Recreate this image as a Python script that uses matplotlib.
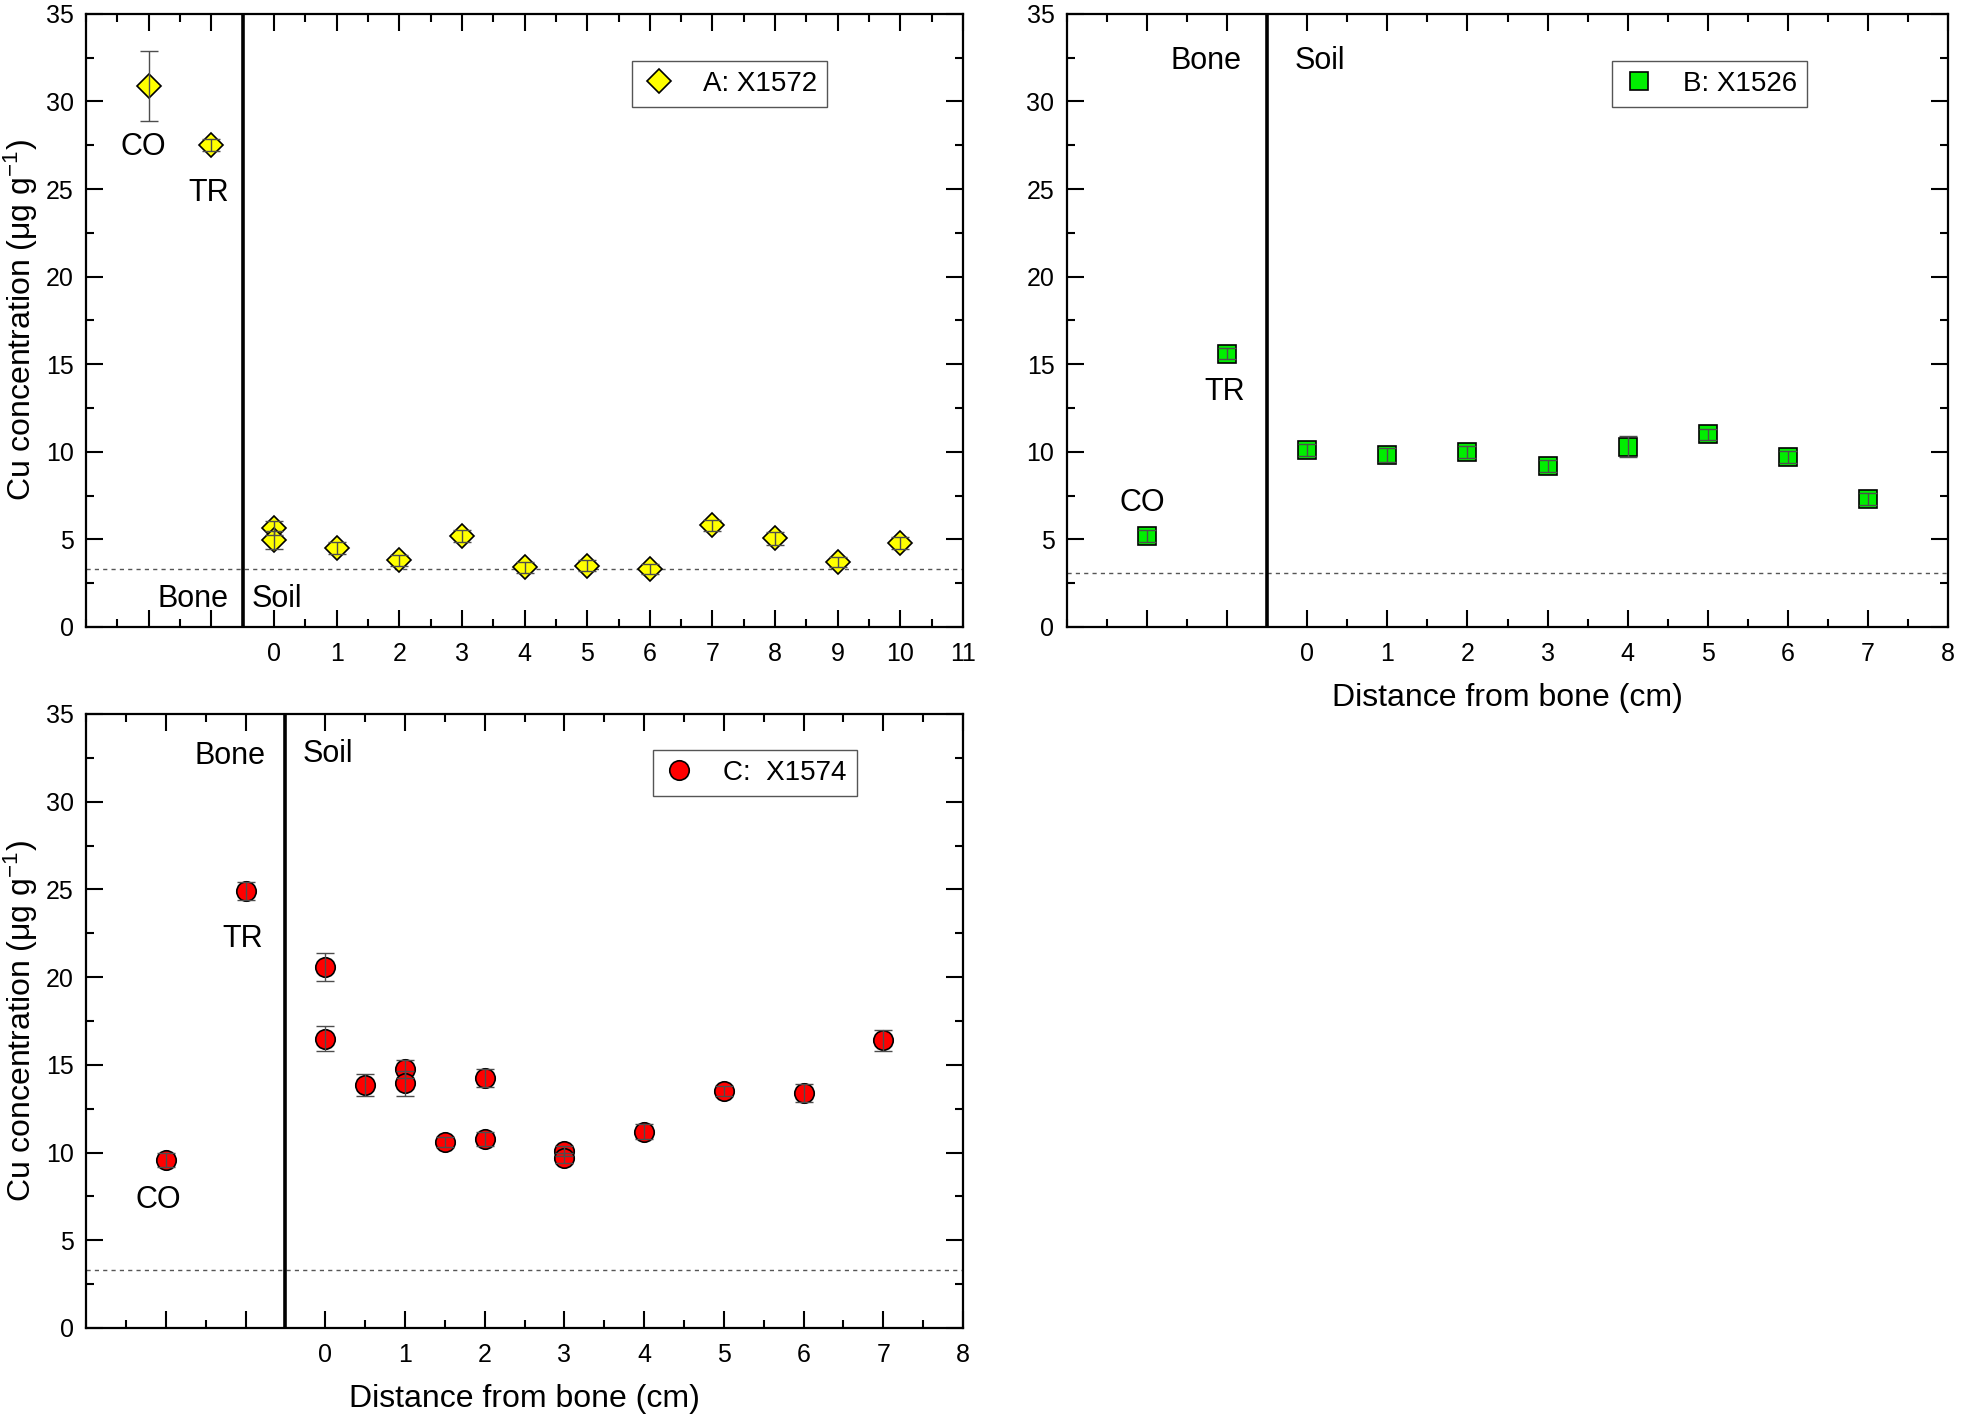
import matplotlib
matplotlib.use("Agg")
import matplotlib.pyplot as plt
from matplotlib.ticker import MultipleLocator, FixedLocator

plt.rcParams['font.family'] = ['Liberation Sans', 'DejaVu Sans']
plt.rcParams['mathtext.fontset'] = 'custom'
plt.rcParams['mathtext.rm'] = 'Liberation Sans'
plt.rcParams['mathtext.it'] = 'Liberation Sans'

# CO / TR sit left of the bone|soil line, at x = -2 and -1
ref_x = [-2, -1]

# A: X1572
a_ref_y = [30.9, 27.5]
a_ref_err = [2.0, 0.35]
a_x = [0, 0, 1, 2, 3, 4, 5, 6, 7, 8, 9, 10]
a_y = [5.65, 4.95, 4.5, 3.8, 5.2, 3.4, 3.5, 3.3, 5.8, 5.05, 3.7, 4.8]
a_err = [0.4, 0.5, 0.35, 0.3, 0.35, 0.3, 0.3, 0.3, 0.3, 0.35, 0.3, 0.35]
a_limit = 3.3

# B: X1526
b_ref_y = [5.2, 15.6]
b_ref_err = [0.35, 0.3]
b_x = [0, 1, 2, 3, 4, 5, 6, 7]
b_y = [10.1, 9.8, 10.0, 9.2, 10.3, 11.0, 9.7, 7.3]
b_err = [0.35, 0.4, 0.35, 0.35, 0.6, 0.3, 0.35, 0.35]
b_limit = 3.1

# C: X1574
c_ref_y = [9.6, 24.9]
c_ref_err = [0.4, 0.5]
c_x = [0, 0, 0.5, 1, 1, 1.5, 2, 2, 3, 3, 4, 5, 6, 7]
c_y = [20.6, 16.5, 13.85, 14.75, 13.95, 10.6, 14.25, 10.8, 10.1, 9.7, 11.2, 13.5, 13.4, 16.4]
c_err = [0.8, 0.7, 0.6, 0.5, 0.7, 0.3, 0.5, 0.4, 0.3, 0.3, 0.4, 0.3, 0.5, 0.6]
c_limit = 3.3

y_label = 'Cu concentration (μg g$^{-1}$)'
x_label = 'Distance from bone (cm)'


def panel(ax, xmax, ref_y, ref_err, xs, ys, errs, limit, marker, ms, color,
          name, leg_xy, texts, xlabel=False, ylabel=False):
    allx = ref_x + xs
    ally = ref_y + ys
    alle = ref_err + errs
    ax.plot(allx, ally, linestyle='none', marker=marker, ms=ms,
            markerfacecolor=color, markeredgecolor='black', markeredgewidth=1.2,
            label=name, zorder=3)
    # error bars drawn over the markers, like the original
    ax.errorbar(allx, ally, yerr=alle, fmt='none', ecolor='#4d4d4d',
                elinewidth=1.0, capsize=6.5, capthick=1.0, zorder=4)
    ax.axhline(limit, color='#555555', lw=1.0, ls=(0, (3, 3)), zorder=1)
    ax.axvline(-0.5, color='black', lw=2.6, zorder=2)

    ax.set_xlim(-3, xmax)
    ax.set_ylim(0, 35)
    ax.xaxis.set_major_locator(FixedLocator(list(range(-2, xmax + 1))))
    ax.set_xticklabels(['', ''] + [str(i) for i in range(0, xmax + 1)])
    ax.xaxis.set_minor_locator(MultipleLocator(0.5))
    ax.yaxis.set_major_locator(MultipleLocator(5))
    ax.yaxis.set_minor_locator(MultipleLocator(2.5))
    ax.tick_params(which='both', direction='in', top=True, right=True,
                   width=1.5, labelsize=18)
    ax.tick_params(which='major', length=12, pad=9)
    ax.tick_params(axis='x', which='major', pad=11)
    ax.tick_params(which='minor', length=6)
    for s in ax.spines.values():
        s.set_linewidth(1.6)

    for t, x, y in texts:
        ax.text(x, y, t, fontsize=22, ha='center', va='center')

    leg = ax.legend(loc='upper left', bbox_to_anchor=leg_xy, fontsize=20,
                    frameon=True, fancybox=False, edgecolor='#555555',
                    framealpha=1, handlelength=1.2, handletextpad=1.0,
                    borderpad=0.35, borderaxespad=0)
    leg.get_frame().set_linewidth(1.0)

    if xlabel:
        ax.set_xlabel(x_label, fontsize=23, labelpad=12)
    if ylabel:
        ax.set_ylabel(y_label, fontsize=23, labelpad=4)


fig = plt.figure(figsize=(19.61, 14.2), dpi=100)
ax_a = fig.add_axes([0.0439, 0.5585, 0.4472, 0.4317])
ax_b = fig.add_axes([0.5441, 0.5585, 0.4493, 0.4317])
ax_c = fig.add_axes([0.0439, 0.0648, 0.4472, 0.4324])

panel(ax_a, 11, a_ref_y, a_ref_err, a_x, a_y, a_err, a_limit, 'D', 12.5,
      '#ffff00', 'A: X1572', (0.623, 0.923),
      [('CO', -2.08, 27.4), ('TR', -1.04, 24.8),
       ('Bone', -1.3, 1.6), ('Soil', 0.04, 1.6)],
      ylabel=True)

panel(ax_b, 8, b_ref_y, b_ref_err, b_x, b_y, b_err, b_limit, 's', 12.5,
      '#00ee00', 'B: X1526', (0.619, 0.923),
      [('CO', -2.06, 7.1), ('TR', -1.03, 13.4),
       ('Bone', -1.27, 32.3), ('Soil', 0.16, 32.3)],
      xlabel=True)

panel(ax_c, 8, c_ref_y, c_ref_err, c_x, c_y, c_err, c_limit, 'o', 14,
      '#ff0000', 'C:  X1574', (0.646, 0.941),
      [('CO', -2.09, 7.3), ('TR', -1.03, 22.2),
       ('Bone', -1.19, 32.6), ('Soil', 0.03, 32.7)],
      xlabel=True, ylabel=True)

plt.savefig('out.png', dpi=100)
